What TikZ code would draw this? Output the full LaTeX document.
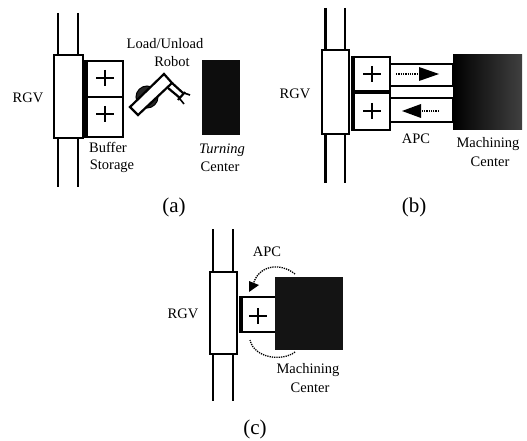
\documentclass[tikz,border=0pt]{standalone}
\usepackage{fontspec}
\setmainfont{Liberation Serif}
\tikzset{
  rail/.style={line width=2.2pt},
  rgvbox/.style={line width=2.4pt, fill=white},
  pallet/.style={line width=2.2pt},
  cross/.style={line width=1.1pt},
  tag/.style={font=\fontsize{14.5}{16}\selectfont, inner sep=0pt},
  caption/.style={font=\fontsize{21}{23}\selectfont, inner sep=0pt},
  motion/.style={line width=1.3pt, densely dotted}
}
\begin{document}
\begin{tikzpicture}[x=1pt, y=-1pt]
  \useasboundingbox (0, 0) rectangle (527, 441);

  % Panel a: RGV
  \draw [rail] (58, 13) -- (58, 187);
  \draw [rail] (78, 13) -- (78, 187);
  \draw [rgvbox] (54, 55) rectangle (83, 138);
  \node [tag] (rgva) at (28, 98) {RGV};

  % Panel a: buffer
  \draw [pallet] (85, 61) rectangle (123, 137);
  \draw [pallet] (85, 97) -- (123, 97);
  \draw [line width=4pt] (86, 60) -- (86, 138);
  \draw [cross] (96, 78) -- (114, 78) (105, 70) -- (105, 86);
  \draw [cross] (96, 114) -- (114, 114) (105, 106) -- (105, 122);
  \node [tag] (buffera) at (108, 147) {Buffer};
  \node [tag] (storagea) at (112, 166) {Storage};

  % Panel a: robot
  \draw [line width=1pt, fill=black!85] (147, 97) circle (11);
  \draw [pallet, fill=white] (130, 107) -- (164, 74) -- (172, 83) -- (138, 115) -- cycle;
  \draw [pallet] (172, 83) -- (183, 93);
  \draw [pallet] (168, 88) -- (180, 98);
  \draw [pallet] (178, 100) -- (185, 92);
  \draw [line width=1.6pt] (184, 93) -- (190, 95) (180, 99) -- (184, 104);
  \node [tag] (loada) at (165, 44) {Load/Unload};
  \node [tag] (robota) at (172, 62) {Robot};

  % Panel a: turning center
  \fill [black!95] (202, 60) rectangle (240, 135);
  \node [tag] (turninga) at (222, 150) {\itshape Turning};
  \node [tag] (centera) at (220, 167) {Center};
  \node [caption] (capa) at (174, 207) {(a)};

  % Panel b: RGV
  \draw [rail] (325.5, 8) -- (325.5, 183);
  \draw [rail] (345, 8) -- (345, 183);
  \draw [rgvbox] (322, 50) rectangle (349, 134);
  \node [tag] (rgvb) at (295, 94) {RGV};

  % Panel b: buffer
  \draw [pallet] (352, 57) rectangle (390, 130);
  \draw [line width=4pt] (353, 56) -- (353, 131);
  \draw [line width=4pt] (352, 92) -- (390, 92);
  \draw [cross] (363, 74) -- (381, 74) (372, 66) -- (372, 82);
  \draw [cross] (363, 111) -- (381, 111) (372, 103) -- (372, 119);

  % Panel b: pallet changer
  \draw [line width=2.6pt] (390, 64) rectangle (453, 86);
  \draw [line width=2.6pt] (390, 98) rectangle (453, 122);
  \coordinate (inb) at (396, 74);
  \coordinate (inbtip) at (439, 74);
  \coordinate (outb) at (439, 111);
  \coordinate (outbtip) at (402, 111);
  \draw [motion] (inb) -- (420, 74);
  \fill (419, 67) -- (inbtip) -- (419, 81) -- cycle;
  \draw [motion] (outb) -- (420, 111);
  \fill (421, 104) -- (outbtip) -- (421, 118) -- cycle;
  \node [tag] (apcb) at (416, 139) {APC};

  % Panel b: machining center
  \shade [left color=black, middle color=black!70, right color=black!75] (453, 55) rectangle (522, 130);
  \node [tag] (machb) at (488, 144) {Machining};
  \node [tag] (centerb) at (490, 162) {Center};
  \node [caption] (capb) at (414, 207) {(b)};

  % Panel c: RGV
  \draw [rail] (213, 229) -- (213, 401);
  \draw [rail] (233, 229) -- (233, 401);
  \draw [rgvbox] (210, 272) rectangle (237, 354);
  \node [tag] (rgvc) at (183, 314) {RGV};

  % Panel c: pallet
  \draw [pallet] (275, 297) -- (240, 297) (240, 332) -- (275, 332);
  \draw [line width=4pt] (241, 296) -- (241, 333);
  \draw [cross] (249, 316) -- (267, 316) (258, 308) -- (258, 324);

  % Panel c: machining center
  \fill [black!92] (275, 277) rectangle (343, 350);
  \coordinate (upc) at (295, 274);
  \coordinate (downc) at (295, 352);
  \coordinate (downcend) at (250, 340);
  \draw [motion] (upc) .. controls (280, 262) and (258, 265) .. (253, 285);
  \fill (249, 292) -- (249, 281) -- (259, 285) -- cycle;
  \draw [motion] (downc) .. controls (282, 362) and (254, 358) .. (downcend);
  \node [tag] (apcc) at (267, 252) {APC};
  \node [tag] (machc) at (308, 370) {Machining};
  \node [tag] (centerc) at (310, 388) {Center};
  \node [caption] (capc) at (255, 429) {(c)};
\end{tikzpicture}
\end{document}
